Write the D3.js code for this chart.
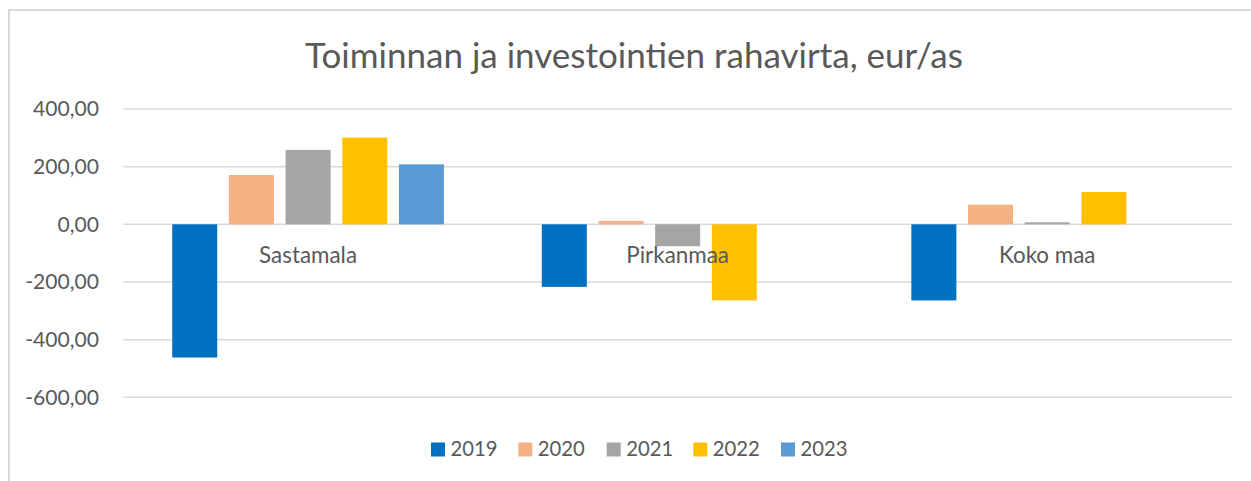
<!DOCTYPE html>
<html>
<head>
<meta charset="utf-8">
<script src="https://cdn.jsdelivr.net/npm/d3@7"></script>
<style>
  html, body { margin: 0; padding: 0; background: #fff; }
  svg { display: block; font-family: Lato, "Open Sans", sans-serif; }
</style>
</head>
<body>
<svg id="chart" width="1251" height="481"></svg>
<script>
const title = "Toiminnan ja investointien rahavirta, eur/as";
const categories = ["Sastamala", "Pirkanmaa", "Koko maa"];
const years = ["2019", "2020", "2021", "2022", "2023"];
const values2019 = [-462, -217, -264];
const values2020 = [171, 12, 68];
const values2021 = [258, -76, 7];
const values2022 = [301, -264, 112];
const values2023 = [208, null, null];
const tickValues = [-600, -400, -200, 0, 200, 400];
const colors = ["#0070C0", "#F4B183", "#A5A5A5", "#FFC000", "#5B9BD5"];

const seriesValues = [values2019, values2020, values2021, values2022, values2023];
const fmt = v => d3.format(".2f")(v).replace(".", ",").replace("−", "-");

const svg = d3.select("#chart");
const textColor = "#595959";
const gridColor = "#D9D9D9";

// chart border
svg.append("rect").attr("x", 9).attr("y", 10).attr("width", 1260).attr("height", 490)
  .attr("fill", "none").attr("stroke", gridColor).attr("stroke-width", 2);

const plotLeft = 123.3, plotRight = 1232;
const y = d3.scaleLinear().domain([-600, 400]).range([397.3, 109]);
const x0 = d3.scaleBand().domain(categories).range([plotLeft, plotRight]).padding(0);
const x1 = d3.scaleBand().domain(years).range([0, x0.bandwidth()]).paddingInner(0.206).paddingOuter(0.863);

function fitFont(sel, target) {
  const w = sel.node().getComputedTextLength();
  const fs = parseFloat(sel.attr("font-size"));
  sel.attr("font-size", fs * target / w);
}

// title
const t = svg.append("text").attr("x", 634).attr("y", 68).attr("text-anchor", "middle")
  .attr("fill", textColor).attr("font-size", 28).attr("font-weight", 400).text(title);
fitFont(t, 658);

// gridlines
svg.append("g").selectAll("line").data(tickValues).join("line")
  .attr("x1", plotLeft).attr("x2", plotRight)
  .attr("y1", d => y(d)).attr("y2", d => y(d))
  .attr("stroke", gridColor).attr("stroke-width", 1.5);

// y axis labels via d3 axis
const yAxis = d3.axisLeft(y).tickValues(tickValues).tickFormat(fmt).tickSize(0).tickPadding(0);
const ag = svg.append("g").attr("transform", "translate(99,0)").call(yAxis);
ag.select(".domain").remove();
ag.selectAll("text").attr("fill", textColor).attr("font-size", 17).attr("font-family", "Lato, 'Open Sans', sans-serif");
{
  const n = ag.selectAll("text").filter(d => d === 400).node();
  const w = n.getComputedTextLength();
  ag.selectAll("text").attr("font-size", 17 * 66 / w);
}

// bars
const groups = svg.append("g").selectAll("g").data(categories).join("g")
  .attr("transform", d => `translate(${x0(d)},0)`);
groups.selectAll("rect")
  .data((c, i) => years.map((yr, j) => ({ yr, v: seriesValues[j][i], color: colors[j] })).filter(d => d.v !== null))
  .join("rect")
  .attr("x", d => x1(d.yr))
  .attr("width", x1.bandwidth())
  .attr("y", d => y(Math.max(0, d.v)))
  .attr("height", d => Math.abs(y(d.v) - y(0)))
  .attr("fill", d => d.color);

// category labels
const cl = svg.append("g").selectAll("text").data(categories).join("text")
  .attr("x", d => x0(d) + x0.bandwidth() / 2)
  .attr("y", 263)
  .attr("text-anchor", "middle")
  .attr("fill", textColor).attr("font-size", 17).text(d => d);
{
  const w = cl.filter(d => d === "Sastamala").node().getComputedTextLength();
  cl.attr("font-size", 17 * 98 / w);
}

// legend
const legendX = [431, 518.3, 606.7, 693.3, 781];
const lg = svg.append("g").selectAll("g").data(years).join("g")
  .attr("transform", (d, i) => `translate(${legendX[i]},0)`);
lg.append("rect").attr("x", 0).attr("y", 442.5).attr("width", 14).attr("height", 14)
  .attr("fill", (d, i) => colors[i]);
const lt = lg.append("text").attr("x", 19.5).attr("y", 456).attr("fill", textColor)
  .attr("font-size", 17).text(d => d);
{
  const w = lt.filter(d => d === "2019").node().getComputedTextLength();
  lt.attr("font-size", 17 * 47 / w);
}
</script>
</body>
</html>
